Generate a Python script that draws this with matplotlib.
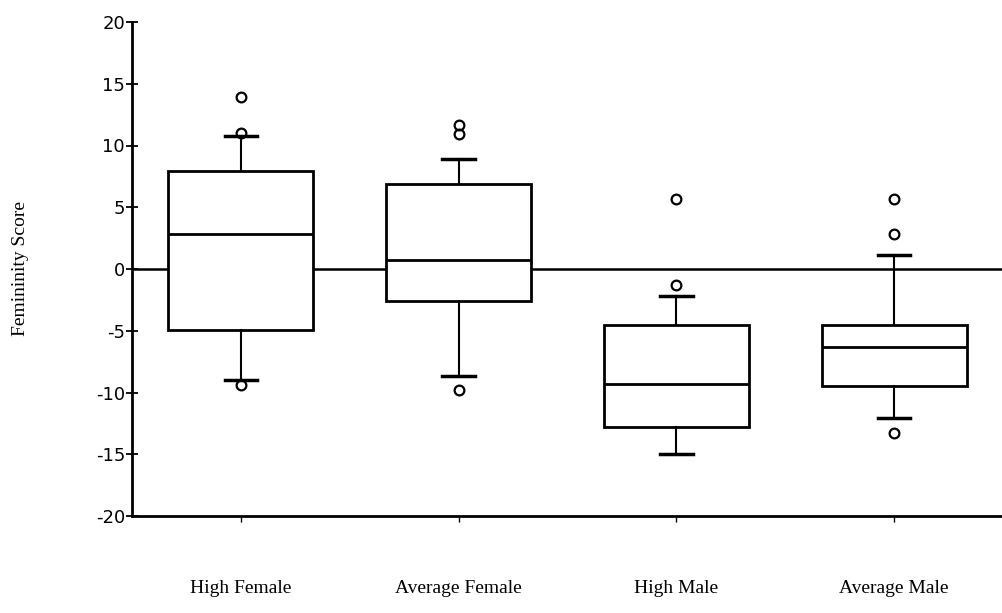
import matplotlib
matplotlib.use("Agg")
import matplotlib.pyplot as plt

groups = ["High Female", "Average Female", "High Male", "Average Male"]
q1 = [-4.9, -2.6, -12.8, -9.5]
med = [2.8, 0.7, -9.3, -6.3]
q3 = [7.9, 6.9, -4.5, -4.5]
whislo = [-9.0, -8.7, -15.0, -12.1]
whishi = [10.8, 8.9, -2.2, 1.1]
fliers = [[13.9, 11.0, -9.4], [11.7, 10.9, -9.8], [5.7, -1.3], [5.7, 2.8, -13.3]]
yticks = [-20, -15, -10, -5, 0, 5, 10, 15, 20]

stats = []
for i, g in enumerate(groups):
    stats.append({"label": g, "q1": q1[i], "med": med[i], "q3": q3[i],
                  "whislo": whislo[i], "whishi": whishi[i], "fliers": fliers[i]})

fig = plt.figure(figsize=(10.03, 6.13), dpi=100)
ax = fig.add_axes([132 / 1003, 1 - 516 / 613, 1 - 132 / 1003, (516 - 22) / 613])

ax.axhline(0, color="black", lw=1.8, zorder=1)

lw = 2.0
ax.bxp(stats, positions=[1, 2, 3, 4], widths=0.665, capwidths=0.15,
       patch_artist=True,
       boxprops=dict(facecolor="white", edgecolor="black", lw=lw),
       medianprops=dict(color="black", lw=lw),
       whiskerprops=dict(color="black", lw=1.5),
       capprops=dict(color="black", lw=2.5),
       flierprops=dict(marker="o", markerfacecolor="none", markeredgecolor="black",
                       markersize=7, markeredgewidth=1.6))

ax.set_xlim(0.5, 4.5)
ax.set_ylim(-20, 20)
ax.set_yticks(yticks)
ax.set_yticklabels([str(t) for t in yticks], fontsize=13)
ax.tick_params(axis="y", direction="inout", length=8, width=1.3, pad=1)
ax.set_xticks([1, 2, 3, 4])
ax.set_xticklabels(groups, family="Liberation Serif", fontsize=14)
ax.tick_params(axis="x", direction="out", length=4, width=1, pad=42)

for s in ["top", "right"]:
    ax.spines[s].set_visible(False)
for s in ["left", "bottom"]:
    ax.spines[s].set_linewidth(2)

ax.set_ylabel("Femininity Score", family="Liberation Serif", fontsize=14)
ax.yaxis.set_label_coords(-0.118, 0.5)

fig.savefig("out.png", dpi=100)
